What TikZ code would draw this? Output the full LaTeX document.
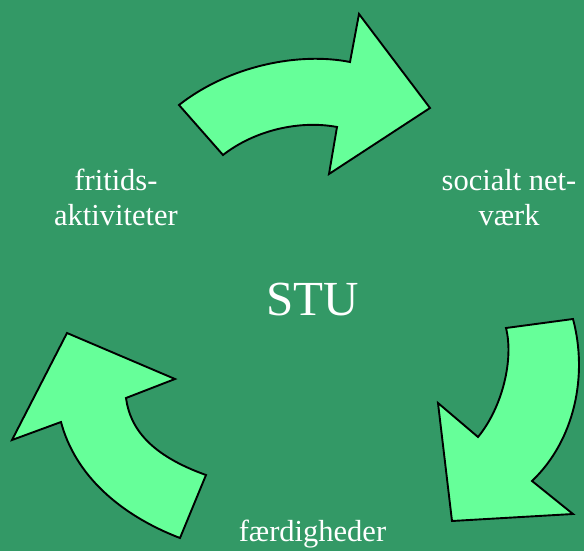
\documentclass[tikz,border=0pt]{standalone}
\usepackage{fontspec}
\setmainfont{Liberation Serif}
\definecolor{fondo}{HTML}{339966}
\definecolor{verdeclaro}{HTML}{66FF99}
\begin{document}
\begin{tikzpicture}[x=1pt,y=-1pt,
  flecha/.style={fill=verdeclaro,draw=black,line width=1.9pt,line join=miter},
  texto/.style={text=white,font=\fontsize{30.5}{35}\selectfont,align=center,inner sep=0pt,anchor=base}]
% Fondo
\fill[fondo] (0,0) rectangle (584,551);
\useasboundingbox (0,0) rectangle (584,551);
% Flecha superior
\draw[flecha] (179,105) .. controls (230,65) and (300,52) .. (350,62)
  -- (359,14) -- (430,108) -- (329,174) -- (337,127)
  .. controls (300,120) and (255,130) .. (223,155) -- cycle;
% Flecha derecha
\draw[flecha] (573,319) .. controls (588,375) and (575,440) .. (532,481)
  -- (573,514) -- (452,521) -- (438,403) -- (478,437)
  .. controls (502,408) and (514,360) .. (506,328) -- cycle;
% Flecha izquierda
\draw[flecha] (206,475) -- (180,538)
  .. controls (120,515) and (75,475) .. (61,422)
  -- (12,440) -- (67,333) -- (175,379) -- (126,398)
  .. controls (130,428) and (150,455) .. cycle;
% Textos
\node[texto] (fritid) at (116,225.5) {fritids-\\aktiviteter};
\node[texto] (netvaerk) at (509,225.5) {socialt net-\\værk};
\node[texto] (faerdig) at (312.5,541) {færdigheder};
\node[texto,font=\fontsize{49}{55}\selectfont] (stu) at (313,315.5) {STU};
\end{tikzpicture}
\end{document}
